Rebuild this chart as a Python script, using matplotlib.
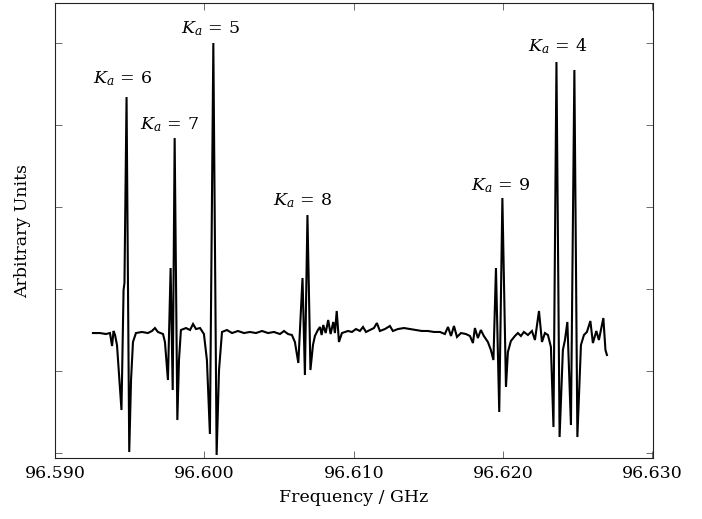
import matplotlib
matplotlib.use("Agg")
import matplotlib.pyplot as plt
from matplotlib.ticker import MultipleLocator, FixedLocator

plt.rcParams['font.family'] = ['DejaVu Serif']
plt.rcParams['mathtext.fontset'] = 'dejavuserif'

freq_ghz = [
    96.59254, 96.59301, 96.59341, 96.59368, 96.59382, 96.59392, 96.59402, 96.59415,
    96.59445, 96.59459, 96.59465, 96.59479, 96.59497, 96.59509, 96.59522, 96.59542,
    96.59582, 96.59622, 96.59649, 96.59669, 96.59689, 96.59723, 96.59736, 96.59756,
    96.59774, 96.59788, 96.59801, 96.59819, 96.59830, 96.59843, 96.59877, 96.59904,
    96.59924, 96.59944, 96.59971, 96.59997, 96.60017, 96.60037, 96.60060, 96.60082,
    96.60098, 96.60118, 96.60151, 96.60185, 96.60225, 96.60265, 96.60305, 96.60345,
    96.60386, 96.60426, 96.60466, 96.60506, 96.60533, 96.60560, 96.60586, 96.60606,
    96.60629, 96.60640, 96.60657, 96.60673, 96.60690, 96.60710, 96.60727, 96.60740,
    96.60760, 96.60774, 96.60785, 96.60796, 96.60812, 96.60829, 96.60845, 96.60863,
    96.60874, 96.60886, 96.60901, 96.60921, 96.60961, 96.60988, 96.61015, 96.61041,
    96.61062, 96.61082, 96.61108, 96.61135, 96.61155, 96.61175, 96.61209, 96.61242,
    96.61262, 96.61296, 96.61336, 96.61376, 96.61416, 96.61456, 96.61497, 96.61537,
    96.61577, 96.61610, 96.61631, 96.61651, 96.61671, 96.61691, 96.61718, 96.61751,
    96.61778, 96.61798, 96.61811, 96.61831, 96.61851, 96.61871, 96.61898, 96.61918,
    96.61935, 96.61952, 96.61974, 96.61995, 96.62019, 96.62032, 96.62052, 96.62079,
    96.62099, 96.62119, 96.62139, 96.62166, 96.62193, 96.62213, 96.62240, 96.62260,
    96.62280, 96.62300, 96.62320, 96.62337, 96.62357, 96.62378, 96.62400, 96.62414,
    96.62430, 96.62454, 96.62477, 96.62497, 96.62521, 96.62541, 96.62561, 96.62584,
    96.62601, 96.62624, 96.62641, 96.62671, 96.62685, 96.62695,
]

intensity = [
    0.463, 0.463, 0.451, 0.463, 0.305, 0.488, 0.439, 0.317,
    -0.476, 0.988, 1.073, 3.341, -0.988, -0.110, 0.354, 0.463,
    0.476, 0.463, 0.488, 0.524, 0.476, 0.451, 0.354, -0.110,
    1.256, -0.232, 2.841, -0.598, 0.134, 0.500, 0.524, 0.500,
    0.573, 0.512, 0.524, 0.451, 0.134, -0.768, 4.000, -1.024,
    0.012, 0.476, 0.500, 0.463, 0.488, 0.463, 0.476, 0.463,
    0.488, 0.463, 0.476, 0.451, 0.488, 0.451, 0.439, 0.354,
    0.098, 0.500, 1.134, -0.049, 1.902, 0.012, 0.317, 0.427,
    0.500, 0.537, 0.439, 0.561, 0.463, 0.622, 0.451, 0.598,
    0.463, 0.732, 0.354, 0.463, 0.488, 0.476, 0.512, 0.488,
    0.537, 0.476, 0.500, 0.524, 0.585, 0.488, 0.512, 0.549,
    0.488, 0.512, 0.524, 0.512, 0.500, 0.488, 0.488, 0.476,
    0.476, 0.451, 0.537, 0.427, 0.549, 0.415, 0.463, 0.451,
    0.427, 0.341, 0.524, 0.402, 0.500, 0.427, 0.354, 0.256,
    0.134, 1.256, -0.500, 2.110, -0.195, 0.232, 0.366, 0.427,
    0.463, 0.427, 0.476, 0.439, 0.488, 0.378, 0.732, 0.354,
    0.463, 0.439, 0.293, -0.683, 3.768, -0.805, 0.256, 0.378,
    0.598, -0.659, 3.671, -0.805, 0.317, 0.439, 0.476, 0.610,
    0.341, 0.488, 0.378, 0.646, 0.256, 0.195,
]

label_texts = [r"$K_a\,=\,6$", r"$K_a\,=\,7$", r"$K_a\,=\,5$", r"$K_a\,=\,8$", r"$K_a\,=\,9$", r"$K_a\,=\,4$"]
label_freq = [96.59455, 96.59770, 96.60044, 96.60660, 96.61985, 96.62367]
label_amp = [3.560, 3.010, 4.171, 2.073, 2.256, 3.963]

x_ticks = [96.590, 96.600, 96.610, 96.620, 96.630]
x_tick_labels = ["96.590", "96.600", "96.610", "96.620", "96.630"]

fig = plt.figure(figsize=(7.02, 5.19), dpi=100)
ax = fig.add_axes([55 / 702, (519 - 458) / 519, (652.5 - 55) / 702, (458 - 3) / 519])

ax.plot(freq_ghz, intensity, color="black", lw=1.5, solid_joinstyle="miter")

for t, fx, fy in zip(label_texts, label_freq, label_amp):
    ax.text(fx, fy, t, ha="center", va="center", fontsize=12.5)

ax.set_xlim(96.590, 96.630)
ax.set_ylim(-1.061, 4.488)
ax.xaxis.set_major_locator(FixedLocator(x_ticks))
ax.set_xticklabels(x_tick_labels)
ax.yaxis.set_major_locator(MultipleLocator(1))
ax.set_yticklabels([])
ax.tick_params(direction="in", length=5, width=0.6, color="#555555",
               top=True, right=True, labelsize=12.5, pad=5)
for s in ax.spines.values():
    s.set_linewidth(0.8)
    s.set_color("#222222")

ax.set_xlabel("Frequency / GHz", fontsize=12.5, labelpad=5)
ax.set_ylabel("Arbitrary Units", fontsize=12.5, labelpad=12)

fig.savefig("out.png", dpi=100)
